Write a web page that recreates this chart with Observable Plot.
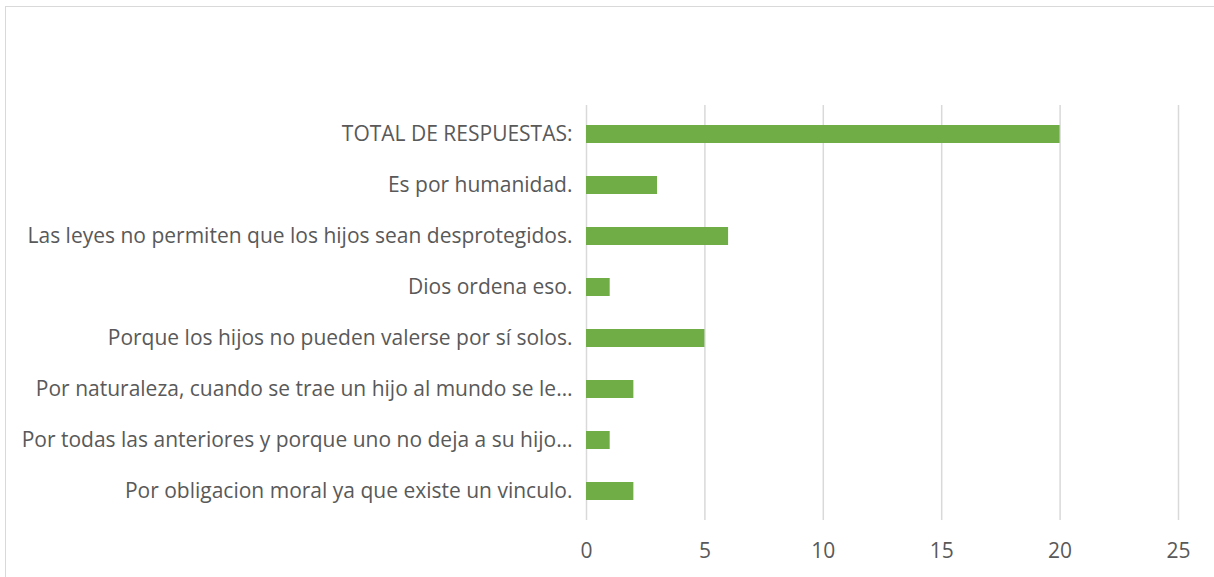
<!DOCTYPE html>
<html>
<head>
<meta charset="utf-8">
<script src="https://cdn.jsdelivr.net/npm/d3@7"></script>
<script src="https://cdn.jsdelivr.net/npm/@observablehq/plot@0.6"></script>
<style>
  html, body { margin: 0; padding: 0; background: #fff; overflow: hidden; }
  #frame { position: absolute; left: 5px; top: 6px; width: 1300px; height: 700px; border: 1px solid #d9d9d9; box-sizing: border-box; pointer-events: none; }
  #chart { position: absolute; left: 0; top: 0; }
</style>
</head>
<body>
<div id="chart"></div>
<div id="frame"></div>
<script>
const categories = [
  "TOTAL DE RESPUESTAS:",
  "Es por humanidad.",
  "Las leyes no permiten que los hijos sean desprotegidos.",
  "Dios ordena eso.",
  "Porque los hijos no pueden valerse por sí solos.",
  "Por naturaleza, cuando se trae un hijo al mundo se le…",
  "Por todas las anteriores y porque uno no deja a su hijo…",
  "Por obligacion moral ya que existe un vinculo."
];
const values = [20, 3, 6, 1, 5, 2, 1, 2];
const xTicks = [0, 5, 10, 15, 20, 25];

const data = categories.map((c, i) => ({label: c, value: values[i]}));

const chart = Plot.plot({
  width: 1214,
  height: 577,
  marginLeft: 586,
  marginRight: 36,
  marginTop: 105,
  marginBottom: 57,
  style: {color: "#595959", fontFamily: "'Open Sans', sans-serif", background: "transparent"},
  x: {domain: [0, 25], ticks: xTicks},
  y: {domain: categories, paddingInner: 0.65, paddingOuter: 0.325},
  marks: [
    Plot.gridX(xTicks, {stroke: "#d9d9d9", strokeOpacity: 1, strokeWidth: 1.5}),
    Plot.barX(data, {x: "value", y: "label", fill: "#70AD47"}),
    Plot.axisX({ticks: xTicks, tickSize: 0, tickPadding: 23, fontSize: 21, label: null}),
    Plot.axisY({tickSize: 0, tickPadding: 14, fontSize: 21, label: null})
  ]
});
document.getElementById("chart").appendChild(chart);
</script>
</body>
</html>
